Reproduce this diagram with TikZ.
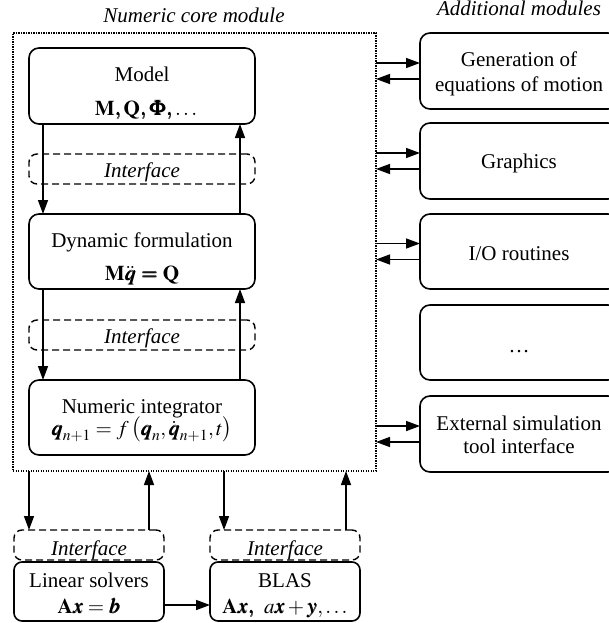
\documentclass[tikz,border=0pt]{standalone}
\usepackage{mathptmx}
\usepackage{bm}
\usepackage[no-math]{fontspec}
\setmainfont{Liberation Serif}
\usetikzlibrary{arrows.meta,calc}

\begin{document}
\begin{tikzpicture}[x=1pt,y=-1pt,
  every node/.style={font=\fontsize{21}{25}\selectfont, inner sep=0pt, outer sep=0pt},
  box/.style={draw, line width=1.6pt, rounded corners=10pt},
  iface/.style={draw, line width=1.4pt, rounded corners=8pt, dash pattern=on 7pt off 4pt},
  corebox/.style={draw, line width=1.3pt, dash pattern=on 1.1pt off 1.4pt},
  txt/.style={anchor=base},
  arr/.style={line width=1.5pt, -{Triangle[length=14pt,width=10pt]}},
]
\useasboundingbox (0,0) rectangle (608,623);

% headings
\node[txt, font=\fontsize{21}{25}\selectfont\itshape] (h-core) at (194,23) {Numeric core module};
\node[txt, font=\fontsize{21}{25}\selectfont\itshape] (h-add) at (519,16) {Additional modules};

% numeric core module
\node[corebox, minimum width=363, minimum height=438] (core) at (194.5,252) {};

\node[box, minimum width=226, minimum height=76] (model) at (142,86) {};
\node[txt] (model-a) at (142,82) {Model};
\node[txt] (model-b) at (146,115) {$\mathbf{M}\bm{,}\mathbf{Q}\bm{,}\bm{\Phi}\bm{,}\bm{\ldots}$};

\node[iface, minimum width=226, minimum height=30] (if1) at (142,169) {};
\node[txt, font=\fontsize{21}{25}\selectfont\itshape] (if1-t) at (142,177) {Interface};

\node[box, minimum width=226, minimum height=75] (df) at (142,251.5) {};
\node[txt] (df-a) at (142,247) {Dynamic formulation};
\node[txt] (df-b) at (142,280) {$\mathbf{M}\ddot{\bm{q}}\bm{=}\mathbf{Q}$};

\node[iface, minimum width=226, minimum height=30] (if2) at (142,335) {};
\node[txt, font=\fontsize{21}{25}\selectfont\itshape] (if2-t) at (142,343) {Interface};

\node[box, minimum width=226, minimum height=75] (ni) at (142,417.5) {};
\node[txt] (ni-a) at (142,413) {Numeric integrator};
\node[txt] (ni-b) at (142,435) {$\bm{q}_{n+1}=f\left(\bm{q}_{n},\dot{\bm{q}}_{n+1},t\right)$};

% x positions of the vertical connectors
\coordinate (xd) at (43,0);
\coordinate (xu) at (240,0);
\draw[arr] (model.south -| xd) -- (df.north -| xd);
\draw[arr] (df.north -| xu) -- (model.south -| xu);
\draw[arr] (df.south -| xd) -- (ni.north -| xd);
\draw[arr] (ni.north -| xu) -- (df.south -| xu);

% external libraries
\node[iface, minimum width=150, minimum height=30] (ifl) at (89,545) {};
\node[txt, font=\fontsize{21}{25}\selectfont\itshape] (ifl-t) at (89,555) {Interface};
\node[box, rounded corners=8pt, minimum width=150, minimum height=59] (ls) at (89,591.5) {};
\node[txt] (ls-a) at (89,587) {Linear solvers};
\node[txt] (ls-b) at (89,613) {$\mathbf{A}\bm{x}=\bm{b}$};

\node[iface, minimum width=150, minimum height=30] (ifr) at (285,545) {};
\node[txt, font=\fontsize{21}{25}\selectfont\itshape] (ifr-t) at (285,555) {Interface};
\node[box, rounded corners=8pt, minimum width=150, minimum height=59] (blas) at (285,591.5) {};
\node[txt] (blas-a) at (285,587) {BLAS};
\node[txt] (blas-b) at (285,613) {$\mathbf{A}\bm{x}\bm{,}\;\, a\bm{x}+\bm{y},\ldots$};

\coordinate (b1) at (29,0);
\coordinate (b2) at (149,0);
\coordinate (b3) at (224,0);
\coordinate (b4) at (346,0);
\draw[arr] (core.south -| b1) -- (ifl.north -| b1);
\draw[arr] (ifl.north -| b2) -- (core.south -| b2);
\draw[arr] (core.south -| b3) -- (ifr.north -| b3);
\draw[arr] (ifr.north -| b4) -- (core.south -| b4);
\draw[arr] ([yshift=-13.5pt]ls.east) -- ([yshift=-13.5pt]blas.west);

% additional modules
\node[box, minimum width=198, minimum height=76] (m1) at (519,71) {};
\node[txt] (m1-a) at (519,67) {Generation of};
\node[txt] (m1-b) at (519,92) {equations of motion};
\node[box, minimum width=198, minimum height=76] (m2) at (519,161) {};
\node[txt] (m2-a) at (519,168) {Graphics};
\node[box, minimum width=198, minimum height=75] (m3) at (519,251.5) {};
\node[txt] (m3-a) at (519,260) {I/O routines};
\node[box, minimum width=198, minimum height=75] (m4) at (519,342.5) {};
\node[txt] (m4-a) at (519,352) {\ldots};
\node[box, minimum width=198, minimum height=76] (m5) at (519,434) {};
\node[txt] (m5-a) at (519,430) {External simulation};
\node[txt] (m5-b) at (519,453) {tool interface};

\foreach \m in {m1,m2,m3,m5}{
  \path ($(\m.west)+(0,-8)$) coordinate (\m-in)
        ($(\m.west)+(0,8)$) coordinate (\m-out);
  \draw[arr] (core.east |- \m-in) -- (\m-in);
  \draw[arr] (\m-out) -- (core.east |- \m-out);
}
\end{tikzpicture}
\end{document}
